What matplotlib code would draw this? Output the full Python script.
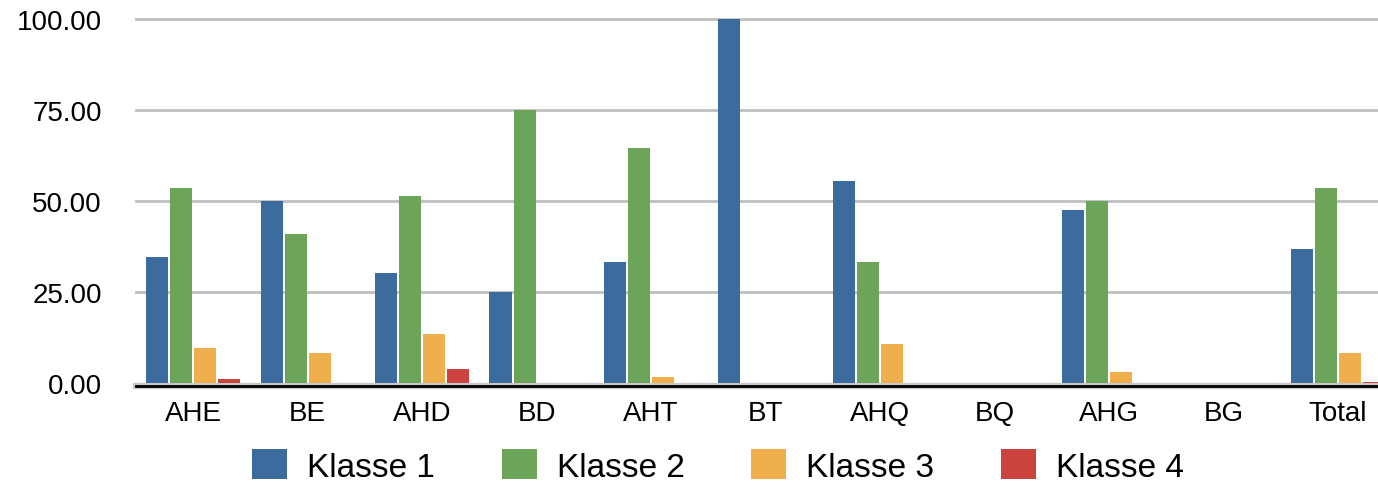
import matplotlib
matplotlib.use("Agg")
import matplotlib.pyplot as plt
import matplotlib.transforms as mtransforms
import numpy as np

categories = ["AHE", "BE", "AHD", "BD", "AHT", "BT", "AHQ", "BQ", "AHG", "BG", "Total"]
series_names = ["Klasse 1", "Klasse 2", "Klasse 3", "Klasse 4"]
klasse1 = [34.5, 50.0, 30.1, 25.0, 33.3, 100.0, 55.6, 0.0, 47.4, 0.0, 36.7]
klasse2 = [53.6, 41.0, 51.4, 75.0, 64.5, 0.0, 33.3, 0.0, 50.0, 0.0, 53.6]
klasse3 = [9.6, 8.2, 13.5, 0.0, 1.6, 0.0, 10.6, 0.0, 3.0, 0.0, 8.2]
klasse4 = [1.0, 0.0, 3.9, 0.0, 0.0, 0.0, 0.0, 0.0, 0.0, 0.0, 0.4]
yticks = [0, 25, 50, 75, 100]
ytick_labels = ["0.00", "25.00", "50.00", "75.00", "100.00"]

colors = ["#3c6c9d", "#6ca45a", "#eeaf4c", "#ca443d"]

plt.rcParams['font.family'] = ['Liberation Sans', 'DejaVu Sans']

W, H = 1378, 489
fig = plt.figure(figsize=(W / 100, H / 100), dpi=100)
left_px, right_px, top_px, bot_px = 136, 1395, 20, 384
ax = fig.add_axes([left_px / W, (H - bot_px) / H, (right_px - left_px) / W, (bot_px - top_px) / H])

x = np.arange(len(categories))
pitch = 0.21
width = 0.193
data = [klasse1, klasse2, klasse3, klasse4]
for i, (vals, c, name) in enumerate(zip(data, colors, series_names)):
    ax.bar(x + (i - 1.5) * pitch, vals, width=width, color=c, label=name, zorder=3)

ax.set_xlim(-0.5, len(categories) - 0.5)
ax.set_ylim(0, 100)
ax.set_yticks(yticks)
ax.set_yticklabels(ytick_labels, fontsize=20)
ax.set_xticks(x)
ax.set_xticklabels(categories, fontsize=20)
for sp in ax.spines.values():
    sp.set_visible(False)
ax.tick_params(axis='y', length=0, pad=24.5)
ax.tick_params(axis='x', length=0, pad=12)
for t in yticks[1:]:
    ax.axhline(t, color="#bfbfbf", lw=2, zorder=1, clip_on=False)
g = ax.axhline(0, color="#c8c8c8", lw=4.5, zorder=2, clip_on=False)
g.set_transform(mtransforms.offset_copy(g.get_transform(), fig=fig, x=0, y=-2.5, units='dots'))
b = ax.axhline(0, color="black", lw=2.0, zorder=5, clip_on=False)
b.set_transform(mtransforms.offset_copy(b.get_transform(), fig=fig, x=0, y=-2.5, units='dots'))

leg = fig.legend(loc="center", bbox_to_anchor=(718 / W, (H - 467) / H), ncol=4, frameon=False,
                 fontsize=24, handlelength=1.05, handleheight=1.0, handletextpad=0.6,
                 columnspacing=2.0)

fig.savefig("out.png", dpi=100)
